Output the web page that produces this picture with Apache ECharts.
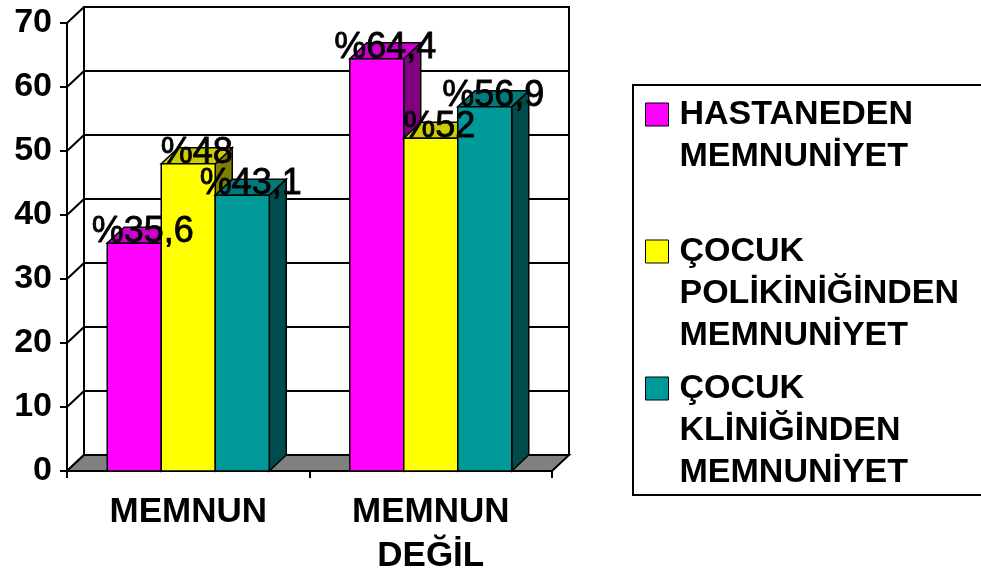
<!DOCTYPE html>
<html>
<head>
<meta charset="utf-8">
<script src="https://cdn.jsdelivr.net/npm/echarts@6/dist/echarts.min.js"></script>
<style>
  html, body { margin: 0; padding: 0; background: #fff; }
  #chart { width: 981px; height: 571px; }
</style>
</head>
<body>
<div id="chart"></div>
<script>
// Survey categories and satisfaction percentages
const categories = ['MEMNUN', 'MEMNUN\nDEĞİL'];
const seriesNames = [
  'HASTANEDEN\nMEMNUNİYET',
  'ÇOCUK\nPOLİKİNİĞİNDEN\nMEMNUNİYET',
  'ÇOCUK\nKLİNİĞİNDEN\nMEMNUNİYET'
];
const hastanedenValues = [35.6, 64.4];
const poliklinikValues = [48, 52];
const klinikValues = [43.1, 56.9];
const yTicks = [0, 10, 20, 30, 40, 50, 60, 70];

const FONT = '"Liberation Sans", Arial, sans-serif';
// pseudo-3D depth offset (pixels)
const DX = 17, DY = -16;
const BAR_RATIO = 0.2227;
const LEGEND_LINE = 42;

const faces = [
  { front: '#FF00FF', top: '#CC00CC', side: '#800080' },
  { front: '#FFFF00', top: '#CCCC00', side: '#808000' },
  { front: '#009999', top: '#007A7A', side: '#004C4C' }
];

function fmtPct(v) {
  return '%' + String(v).replace('.', ',');
}

function barRenderer(idx) {
  const f = faces[idx];
  return function (params, api) {
    const cat = api.value(0), val = api.value(1);
    const base = api.coord([cat, 0]);
    const top = api.coord([cat, val]);
    const band = api.size([1, 0])[0];
    const bw = band * BAR_RATIO;
    const x0 = base[0] - 1.5 * bw + idx * bw;
    const x1 = x0 + bw;
    const y0 = base[1], y1 = top[1];
    const edge = { stroke: '#000', lineWidth: 1.5 };
    return {
      type: 'group',
      children: [
        { type: 'polygon', shape: { points: [[x1, y1], [x1 + DX, y1 + DY], [x1 + DX, y0 + DY], [x1, y0]] },
          style: Object.assign({ fill: f.side }, edge) },
        { type: 'polygon', shape: { points: [[x0, y1], [x0 + DX, y1 + DY], [x1 + DX, y1 + DY], [x1, y1]] },
          style: Object.assign({ fill: f.top }, edge) },
        { type: 'rect', shape: { x: x0, y: y1, width: bw, height: y0 - y1 },
          style: Object.assign({ fill: f.front }, edge) },
        { type: 'text', z2: 100, x: (x0 + x1) / 2 + DX / 2, y: y1 - 11,
          style: { text: fmtPct(val), font: '36px ' + FONT, fill: '#000', stroke: '#000', lineWidth: 0.8,
                   align: 'center', verticalAlign: 'middle' } }
      ]
    };
  };
}

// Walls, floor and back gridlines of the 3D frame
function frameRenderer(params, api) {
  const v = api.value(1);
  const band = api.size([1, 0])[0];
  const xL = api.coord([0, 0])[0] - band / 2;
  const xR = api.coord([categories.length - 1, 0])[0] + band / 2;
  const yf = api.coord([0, v])[1];
  const y0 = api.coord([0, yTicks[0]])[1];
  const yTop = api.coord([0, yTicks[yTicks.length - 1]])[1];
  const line = { stroke: '#000', lineWidth: 2 };
  const children = [
    { type: 'line', z2: 1, shape: { x1: xL, y1: yf, x2: xL + DX, y2: yf + DY }, style: line },
    { type: 'line', z2: 1, shape: { x1: xL + DX, y1: yf + DY, x2: xR + DX, y2: yf + DY }, style: line }
  ];
  if (params.dataIndex === 0) {
    children.push(
      { type: 'rect', z2: 0, shape: { x: xL + DX, y: yTop + DY, width: xR - xL, height: y0 - yTop },
        style: { fill: '#fff', stroke: '#000', lineWidth: 2 } },
      { type: 'polygon', z2: 2, shape: { points: [[xL, y0], [xL + DX, y0 + DY], [xR + DX, y0 + DY], [xR, y0]] },
        style: { fill: '#808080', stroke: '#000', lineWidth: 2 } }
    );
  }
  return { type: 'group', children: children };
}

const valueSets = [hastanedenValues, poliklinikValues, klinikValues];

const series = [{
  type: 'custom',
  name: 'frame',
  z: 1,
  silent: true,
  renderItem: frameRenderer,
  encode: { x: 0, y: 1 },
  data: yTicks.map(v => [0, v])
}];
valueSets.forEach((vals, i) => {
  series.push({
    type: 'custom',
    name: seriesNames[i],
    z: 2,
    itemStyle: { color: faces[i].front },
    renderItem: barRenderer(i),
    encode: { x: 0, y: 1 },
    data: vals.map((v, c) => [c, v])
  });
});

// One legend block per series; blank lines above the name keep the
// swatch level with the first text line.
const legendIconCenters = [114.5, 251.5, 388.5];
const legends = seriesNames.map((name, i) => {
  const n = name.split('\n').length;
  const total = 2 * n - 1;
  return {
    orient: 'vertical',
    left: 645,
    top: legendIconCenters[i] - total * LEGEND_LINE / 2,
    padding: 0,
    itemWidth: 23,
    itemHeight: 23,
    itemGap: 0,
    icon: 'rect',
    selectedMode: false,
    itemStyle: { borderColor: '#000', borderWidth: 1 },
    textStyle: { fontFamily: FONT, fontWeight: 'bold', fontSize: 34, lineHeight: LEGEND_LINE, color: '#000', padding: [0, 0, 0, 6] },
    formatter: nm => '\n'.repeat(n - 1) + nm,
    data: [name]
  };
});

const chart = echarts.init(document.getElementById('chart'), null, { renderer: 'canvas' });
chart.setOption({
  animation: false,
  backgroundColor: '#fff',
  grid: { left: 67, right: 429, top: 23, bottom: 100, containLabel: false, outerBoundsMode: 'none' },
  xAxis: {
    type: 'category',
    data: categories,
    boundaryGap: true,
    axisLine: { show: true, lineStyle: { color: '#000', width: 2 } },
    axisTick: { show: true, length: 7, lineStyle: { color: '#000', width: 2 } },
    axisLabel: { margin: 19, fontFamily: FONT, fontWeight: 'bold', fontSize: 35, lineHeight: 44, color: '#000', interval: 0 },
    splitLine: { show: false }
  },
  yAxis: {
    type: 'value',
    min: 0, max: 70, interval: 10,
    axisLine: { show: true, lineStyle: { color: '#000', width: 2 } },
    axisTick: { show: true, length: 7, lineStyle: { color: '#000', width: 2 } },
    axisLabel: { margin: 15, fontFamily: FONT, fontWeight: 'bold', fontSize: 34, color: '#000' },
    splitLine: { show: false }
  },
  legend: legends,
  graphic: [{
    type: 'rect',
    shape: { x: 633, y: 85, width: 360, height: 410 },
    style: { fill: 'none', stroke: '#000', lineWidth: 2 },
    z: -1
  }],
  series: series
});
</script>
</body>
</html>
